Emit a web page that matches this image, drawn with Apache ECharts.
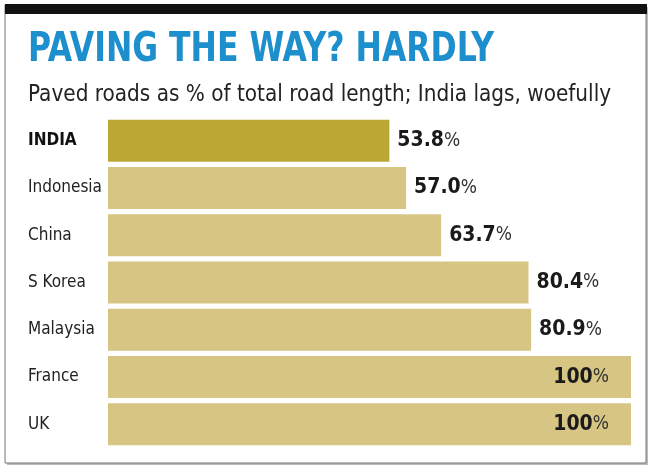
<!DOCTYPE html>
<html>
<head>
<meta charset="utf-8">
<style>
  html, body { margin: 0; padding: 0; background: #fff; }
  #chart { width: 665px; height: 474px; }
</style>
<script src="https://cdn.jsdelivr.net/npm/echarts@6/dist/echarts.min.js"></script>
</head>
<body>
<div id="chart"></div>
<script>
// countries, top to bottom
const countries = ['INDIA', 'Indonesia', 'China', 'S Korea', 'Malaysia', 'France', 'UK'];
// paved roads as % of total road length
const paved = [53.8, 57.0, 63.7, 80.4, 80.9, 100, 100];
const valueLabels = ['53.8', '57.0', '63.7', '80.4', '80.9', '100', '100'];

const titleText = 'PAVING THE WAY? HARDLY';
const subText = 'Paved roads as % of total road length; India lags, woefully';

const narrow = "'Liberation Sans Narrow', 'DejaVu Sans Condensed', 'Roboto', sans-serif";

const chart = echarts.init(document.getElementById('chart'));

const barData = paved.map((v, i) => ({
  value: v,
  itemStyle: { color: i === 0 ? '#bba733' : '#d6c583' },
  label: {
    position: v >= 100 ? 'insideRight' : 'right',
    distance: v >= 100 ? 22 : 8,
    formatter: () => '{n|' + valueLabels[i] + '}{p|%}'
  }
}));

chart.setOption({
  animation: false,
  backgroundColor: '#fff',
  graphic: [
    // box shadow + border
    { type: 'rect', shape: { x: 7, y: 7, width: 641, height: 458 }, style: { fill: '#bbb' }, z: -3 },
    { type: 'rect', shape: { x: 5, y: 5, width: 641, height: 458 }, style: { fill: '#fff', stroke: '#777', lineWidth: 1 }, z: -2 },
    // black band on top
    { type: 'rect', shape: { x: 5, y: 4, width: 642, height: 10 }, style: { fill: '#111' }, z: -1 },
    // headline, squeezed to the condensed look of the original
    {
      type: 'text', x: 28, y: 31, scaleX: 0.875,
      style: { text: titleText, fill: '#1d8fcc', font: "bold 40px " + narrow, textVerticalAlign: 'top' }
    },
    {
      type: 'text', x: 28, y: 84, scaleX: 0.97,
      style: { text: subText, fill: '#222', font: "23px " + narrow, textVerticalAlign: 'top' }
    }
  ],
  grid: { left: 108, right: 34, top: 117, bottom: 26 },
  xAxis: {
    type: 'value',
    min: 0,
    max: 100,
    show: false
  },
  yAxis: {
    type: 'category',
    data: countries,
    inverse: true,
    axisLine: { show: false },
    axisTick: { show: false },
    axisLabel: {
      align: 'left',
      margin: 80,
      fontFamily: narrow,
      fontSize: 17,
      color: '#222',
      formatter: (v) => v === 'INDIA' ? '{b|' + v + '}' : v,
      rich: {
        b: { fontFamily: narrow, fontSize: 17, fontWeight: 'bold', color: '#111' }
      }
    }
  },
  series: [{
    type: 'bar',
    data: barData,
    barWidth: 42,
    label: {
      show: true,
      rich: {
        n: { fontFamily: narrow, fontSize: 21, fontWeight: 'bold', color: '#1a1a1a' },
        p: { fontFamily: narrow, fontSize: 19, color: '#333' }
      }
    }
  }]
});
</script>
</body>
</html>
